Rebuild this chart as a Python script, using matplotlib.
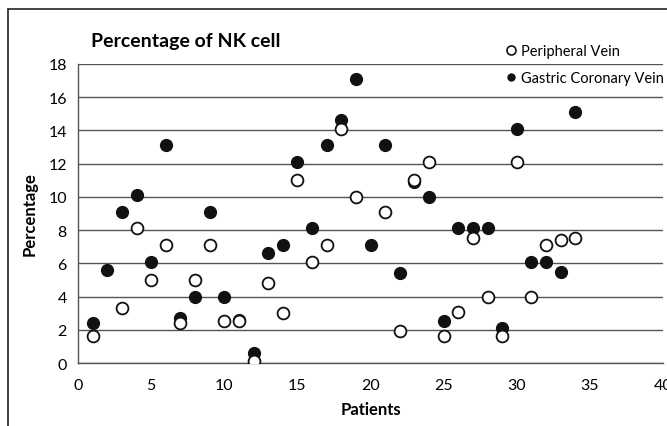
import numpy as np
import matplotlib.pyplot as plt
from matplotlib.lines import Line2D
from matplotlib.patches import Rectangle

plt.rcParams['font.family'] = ['Lato', 'DejaVu Sans']

# NK cell percentages per patient
patients_pv = [1, 3, 4, 5, 6, 7, 8, 9, 10, 11, 12, 13, 14, 15, 16, 17, 18, 19,
               21, 22, 23, 24, 25, 26, 27, 28, 29, 30, 31, 32, 33, 34]
peripheral = [1.6, 3.3, 8.1, 5.0, 7.1, 2.4, 5.0, 7.1, 2.5, 2.5, 0.1, 4.8, 3.0, 11.0,
              6.1, 7.1, 14.1, 10.0, 9.1, 1.9, 11.0, 12.1, 1.6, 3.1, 7.5, 4.0, 1.6,
              12.1, 4.0, 7.1, 7.4, 7.5]

patients_gcv = list(range(1, 35))
gastric = [2.4, 5.6, 9.1, 10.1, 6.1, 13.1, 2.7, 4.0, 9.1, 4.0, 2.6, 0.6, 6.6, 7.1,
           12.1, 8.1, 13.1, 14.6, 17.1, 7.1, 13.1, 5.4, 10.9, 10.0, 2.5, 8.1, 8.1,
           8.1, 2.1, 14.1, 6.1, 6.1, 5.5, 15.1]

fig = plt.figure(figsize=(6.67, 4.27), dpi=100)
ax = fig.add_axes([0.117, 0.1475, 0.877, 0.7005])

ax.plot(patients_gcv, gastric, 'o', color='#111111', markersize=8.5,
        markeredgecolor='#111111', zorder=3)
ax.plot(patients_pv, peripheral, 'o', markerfacecolor='white',
        markeredgecolor='#111111', markeredgewidth=1.3, markersize=8.5, zorder=4)

ax.set_xlim(0, 40)
ax.set_ylim(0, 18)
ax.set_xticks(range(0, 41, 5))
ax.set_yticks(range(0, 19, 2))
ax.yaxis.grid(True, color='#555555', linewidth=1.0)
ax.set_axisbelow(True)
ax.tick_params(length=0, labelsize=11.5)
ax.tick_params(axis='x', pad=11)
ax.tick_params(axis='y', pad=8)
for s in ['top', 'right']:
    ax.spines[s].set_visible(False)
for s in ['left', 'bottom']:
    ax.spines[s].set_color('#555555')
    ax.spines[s].set_linewidth(1.0)

ax.set_xlabel('Patients', fontsize=12, fontweight='bold', labelpad=6)
ax.set_ylabel('Percentage', fontsize=12, fontweight='bold', labelpad=8)

fig.text(0.137, 0.89, 'Percentage of NK cell', fontsize=14, fontweight='bold')

handles = [
    Line2D([], [], marker='o', linestyle='none', markerfacecolor='white',
           markeredgecolor='#111111', markeredgewidth=1.2, markersize=6.5),
    Line2D([], [], marker='o', linestyle='none', color='#111111', markersize=5),
]
fig.legend(handles, ['Peripheral Vein', 'Gastric Coronary Vein'],
           loc='upper left', bbox_to_anchor=(0.735, 0.925), frameon=False,
           fontsize=10.5, handletextpad=0.2, labelspacing=0.9, handlelength=1.0)

# frame around the figure (cropped on right and bottom)
fig.add_artist(Rectangle((0.012, -0.1), 1.2, 1.076, transform=fig.transFigure,
                         fill=False, edgecolor='#222222', linewidth=1.2))

fig.savefig('out.png', dpi=100)
